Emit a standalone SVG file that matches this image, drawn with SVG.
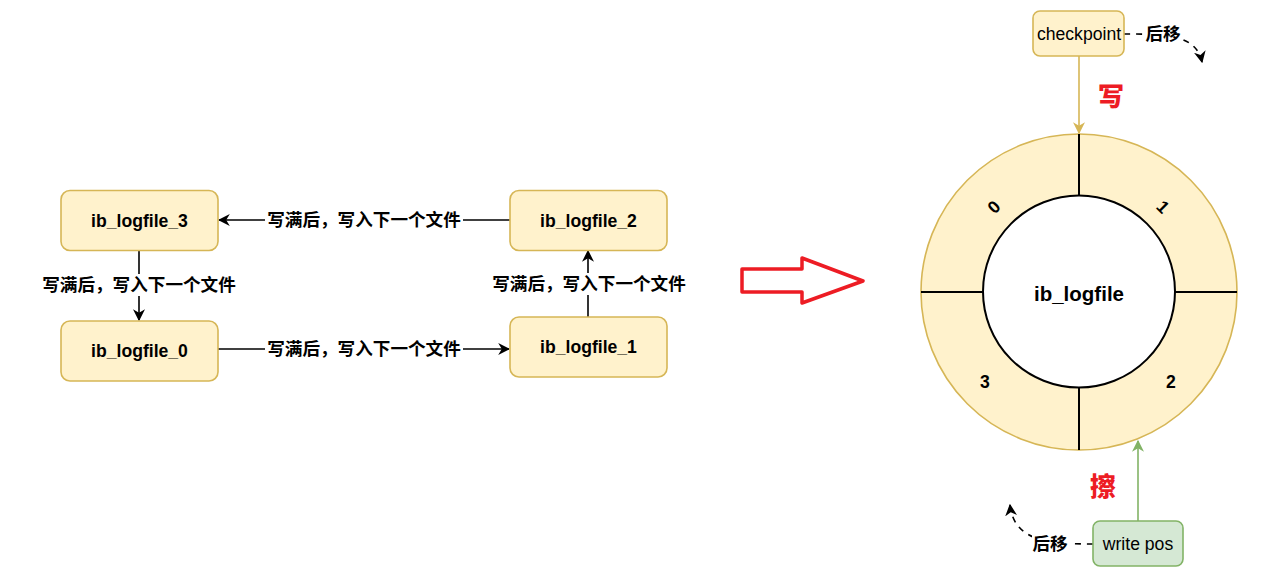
<svg xmlns="http://www.w3.org/2000/svg" width="1283" height="575" viewBox="0 0 1283 575">
<style>
.node{fill:#fff2cc;stroke:#d6b656;stroke-width:1.6}
.green{fill:#d5e8d4;stroke:#82b366;stroke-width:1.6}
.t{font-family:"Liberation Sans","Noto Sans CJK SC",Arial,sans-serif;text-anchor:middle;dominant-baseline:central;fill:#000}
.b{font-weight:bold}
.lbl{font-family:"Liberation Sans","Noto Sans CJK SC",sans-serif;font-weight:bold;font-size:17.6px;text-anchor:middle;dominant-baseline:central;fill:#000}
.red{font-family:"Noto Sans CJK SC",sans-serif;font-weight:900;font-size:26px;text-anchor:middle;dominant-baseline:central;fill:#ed1c24}
.edge{fill:none;stroke:#000;stroke-width:1.6}
.dash{fill:none;stroke:#000;stroke-width:1.6;stroke-dasharray:6 6}
.bg{fill:#fff}
.div{stroke:#000;stroke-width:2}
</style>
<defs>
<marker id="ah" viewBox="0 0 10 10" refX="9" refY="5" markerWidth="12" markerHeight="12" markerUnits="userSpaceOnUse" orient="auto"><path d="M0,0 L10,5 L0,10 L3,5 z" fill="#000"/></marker>
<marker id="ahy" viewBox="0 0 10 10" refX="9" refY="5" markerWidth="12" markerHeight="12" markerUnits="userSpaceOnUse" orient="auto"><path d="M0,0 L10,5 L0,10 L3,5 z" fill="#d6b656"/></marker>
<marker id="ahg" viewBox="0 0 10 10" refX="9" refY="5" markerWidth="12" markerHeight="12" markerUnits="userSpaceOnUse" orient="auto"><path d="M0,0 L10,5 L0,10 L3,5 z" fill="#82b366"/></marker>
</defs>
<rect width="1283" height="575" fill="#fff"/>

<g id="connectors">
<line class="edge" x1="510" y1="220" x2="219" y2="220" marker-end="url(#ah)"/>
<rect class="bg" x="265" y="209" width="198" height="22"/>
<text class="lbl" x="364" y="220">写满后，写入下一个文件</text>

<line class="edge" x1="139" y1="250" x2="139" y2="320" marker-end="url(#ah)"/>
<rect class="bg" x="40" y="274" width="198" height="22"/>
<text class="lbl" x="139" y="285">写满后，写入下一个文件</text>

<line class="edge" x1="588" y1="317" x2="588" y2="251" marker-end="url(#ah)"/>
<rect class="bg" x="490" y="273" width="198" height="22"/>
<text class="lbl" x="589" y="284">写满后，写入下一个文件</text>

<line class="edge" x1="218" y1="349" x2="509" y2="349" marker-end="url(#ah)"/>
<rect class="bg" x="265" y="338" width="198" height="22"/>
<text class="lbl" x="364" y="349">写满后，写入下一个文件</text>

<line x1="1079" y1="56" x2="1079" y2="133" stroke="#d6b656" stroke-width="1.6" marker-end="url(#ahy)"/>
<line x1="1138" y1="521" x2="1138" y2="441" stroke="#82b366" stroke-width="1.6" marker-end="url(#ahg)"/>

<path class="dash" d="M1124,34 C1165,34 1196,34 1202,62" marker-end="url(#ah)"/>
<rect class="bg" x="1144" y="23" width="37" height="22"/>
<text class="lbl" x="1163" y="34">后移</text>

<path class="dash" d="M1093,544 C1050,544 1014,542 1010,505" marker-end="url(#ah)"/>
<rect class="bg" x="1032" y="533" width="37" height="22"/>
<text class="lbl" x="1050" y="544">后移</text>
</g>

<g id="ib_logfile_3"><rect class="node" x="61" y="190.5" width="157" height="60" rx="9"/><text class="t b" x="139.5" y="220.5" font-size="17.6">ib_logfile_3</text></g>
<g id="ib_logfile_0"><rect class="node" x="61" y="321" width="157" height="60" rx="9"/><text class="t b" x="139.5" y="351" font-size="17.6">ib_logfile_0</text></g>
<g id="ib_logfile_2"><rect class="node" x="510" y="190.5" width="157" height="60" rx="9"/><text class="t b" x="588.5" y="220.5" font-size="17.6">ib_logfile_2</text></g>
<g id="ib_logfile_1"><rect class="node" x="510" y="317" width="157" height="60" rx="9"/><text class="t b" x="588.5" y="347" font-size="17.6">ib_logfile_1</text></g>

<g id="big_arrow"><polygon points="742,269 802,269 802,258 863,281 802,303 802,292 742,292" fill="#fff" stroke="#ed1c24" stroke-width="3.5" stroke-linejoin="round"/></g>

<g id="ring">
<circle cx="1079" cy="292" r="158" fill="#fff2cc" stroke="#d6b656" stroke-width="1.6"/>
<line class="div" x1="1079" y1="134" x2="1079" y2="196"/>
<line class="div" x1="1079" y1="387" x2="1079" y2="450"/>
<line class="div" x1="921" y1="292" x2="983" y2="292"/>
<line class="div" x1="1175" y1="292" x2="1237" y2="292"/>
<circle cx="1079" cy="291.5" r="96" fill="#fff" stroke="#000" stroke-width="2"/>
<text class="t b" x="1079" y="293" font-size="20.5">ib_logfile</text>
<text class="t b" font-size="17.6" transform="translate(994,207) rotate(-45)">0</text>
<text class="t b" font-size="17.6" transform="translate(1163,207) rotate(45)">1</text>
<text class="t b" x="985" y="382" font-size="17.6">3</text>
<text class="t b" x="1171" y="382" font-size="17.6">2</text>
</g>

<g id="checkpoint"><rect class="node" x="1033" y="11" width="91" height="45" rx="7"/><text class="t" x="1079" y="33.5" font-size="17.6">checkpoint</text></g>
<g id="write_pos"><rect class="green" x="1093" y="521" width="90" height="45" rx="7"/><text class="t" x="1138" y="544" font-size="17.6">write pos</text></g>

<g id="labels">
<text class="red" x="1111" y="94">写</text>
<text class="red" x="1103" y="484">擦</text>
</g>
</svg>
